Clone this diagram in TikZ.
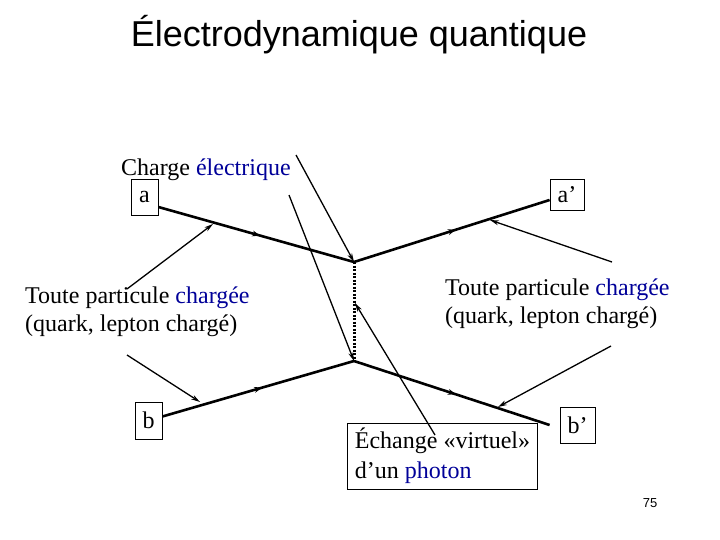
\documentclass[tikz,border=0pt]{standalone}
\usepackage{fontspec}
\setmainfont{Liberation Serif}
\newfontfamily\titrefont{Liberation Sans}
\usepackage{xcolor}
\usetikzlibrary{arrows.meta,decorations.markings}
\definecolor{bleucharge}{RGB}{0,0,153}

\begin{document}
\begin{tikzpicture}[x=1pt,y=-1pt,
    texte/.style={font=\fontsize{24}{28}\selectfont, inner sep=0pt},
    boite/.style={draw, line width=0.8pt, font=\fontsize{24}{28}\selectfont, inner sep=0pt},
    fermion/.style={line width=2.6pt, postaction={decorate},
        decoration={markings, mark=at position 0.52 with {\arrow{Stealth[length=8pt,width=6pt,line width=0pt]}}}},
    pointeur/.style={line width=1.3pt, -{Stealth[length=9pt,width=5pt,line width=0pt]}},
    photon/.style={line width=3pt, dash pattern=on 2pt off 1.5pt}]
    \fill[white] (0,0) rectangle (720,540);
    \useasboundingbox (0,0) rectangle (720,540);

    % Titre
    \node[font=\titrefont\fontsize{36}{43}\selectfont, anchor=base] (titre) at (359,47) {Électrodynamique quantique};

    % Textes
    \node[texte, anchor=base west] (charge) at (121,176) {Charge \textcolor{bleucharge}{électrique}};
    \node[texte, anchor=base west, align=left] (toutegauche) at (25,331) {Toute particule \textcolor{bleucharge}{chargée}\\(quark, lepton chargé)};
    \node[texte, anchor=base west, align=left] (toutedroite) at (445,323) {Toute particule \textcolor{bleucharge}{chargée}\\(quark, lepton chargé)};

    % Particules
    \node[boite, minimum width=27pt, minimum height=36pt] (a) at (144.5,197) {a};
    \node[boite, minimum width=34pt, minimum height=31pt] (ap) at (567,195) {a’};
    \node[boite, minimum width=27pt, minimum height=37pt] (b) at (148.5,420.5) {b};
    \node[boite, minimum width=35pt, minimum height=36pt] (bp) at (577.5,425) {b’};
    \node[boite, font=\fontsize{24}{30}\selectfont, align=left, minimum width=189pt, minimum height=66pt, inner xsep=7pt] (echange) at (442.5,456) {Échange «virtuel»\\d’un \textcolor{bleucharge}{photon}};

    % Sommets
    \coordinate (v1) at (354,262);
    \coordinate (v2) at (354,361);

    % Lignes des fermions
    \draw[fermion] ([yshift=-10pt]a.east) -- (v1);
    \draw[fermion] (v1) -- ([yshift=-5pt]ap.west);
    \draw[fermion] ([yshift=4pt]b.east) -- (v2);
    \draw[fermion] (v2) -- ([xshift=-10pt]bp.west);
    \draw[photon] (v1) -- (v2);

    % Pointeurs
    \coordinate (pa0) at (127,289);  \coordinate (pa1) at (213,224);
    \coordinate (pb0) at (127,355);  \coordinate (pb1) at (200,402);
    \coordinate (pap0) at (612,262); \coordinate (pap1) at (490,220);
    \coordinate (pbp0) at (611,346); \coordinate (pbp1) at (498,407);
    \coordinate (c1) at (296,155);
    \coordinate (c2) at (289,195);
    \coordinate (e0) at (435,435);   \coordinate (e1) at (355,303);
    \draw[pointeur] (pa0) -- (pa1);
    \draw[pointeur] (pb0) -- (pb1);
    \draw[pointeur] (pap0) -- (pap1);
    \draw[pointeur] (pbp0) -- (pbp1);
    \draw[pointeur] (c1) -- (v1);
    \draw[pointeur] (c2) -- (v2);
    \draw[pointeur] (e0) -- (e1);

    % Numero de page
    \node[font=\titrefont\fontsize{13}{15}\selectfont] (page) at (650,503) {75};
\end{tikzpicture}
\end{document}
